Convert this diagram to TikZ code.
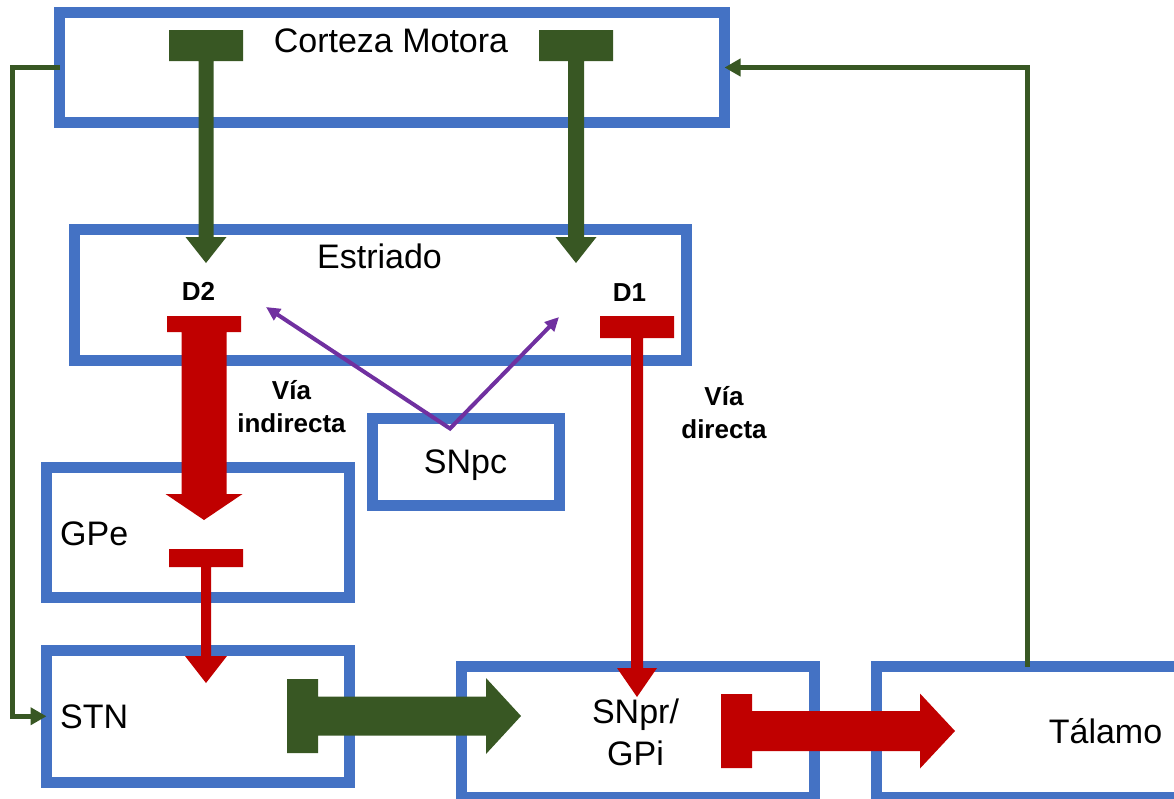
\documentclass[tikz,border=0pt]{standalone}
\usepackage{fontspec}
\setmainfont{Liberation Sans}
\usetikzlibrary{arrows.meta,calc}
\definecolor{bxblue}{HTML}{4472C4}
\definecolor{dkred}{HTML}{C00000}
\definecolor{dkgreen}{HTML}{385723}
\definecolor{purp}{HTML}{7030A0}
% vertical T-arrow: colour, origin, bar half, bar thickness, shaft half, head half, head base, tip
\newcommand\VTarrow[8]{%
  \fill[#1,shift={(#2)}] (-#3,0) -- (#3,0) -- (#3,#4) -- (#5,#4) -- (#5,#7) -- (#6,#7) -- (0,#8)
    -- (-#6,#7) -- (-#5,#7) -- (-#5,#4) -- (-#3,#4) -- cycle;}
% horizontal T-arrow: colour, origin, bar half, bar thickness, shaft half, head half, head base, tip
\newcommand\HTarrow[8]{%
  \fill[#1,shift={(#2)}] (0,-#3) -- (0,#3) -- (#4,#3) -- (#4,#5) -- (#7,#5) -- (#7,#6) -- (#8,0)
    -- (#7,-#6) -- (#7,-#5) -- (#4,-#5) -- (#4,-#3) -- cycle;}
\begin{document}
\begin{tikzpicture}[x=1pt,y=-1pt,
  box/.style={draw=bxblue,line width=11pt,rectangle,inner sep=0pt,outer sep=0pt},
  big/.style={inner sep=0pt,font=\fontsize{34}{42}\selectfont},
  lbl/.style={inner sep=0pt,font=\fontsize{26}{32.5}\selectfont\bfseries},
  fb/.style={draw=dkgreen,line width=5pt,-{Triangle[length=16pt,width=17pt]}},
  pline/.style={draw=purp,line width=4pt,line join=miter},
  ptip/.tip={Triangle[length=14pt,width=13pt]}]
\useasboundingbox (0,0) rectangle (1174,798);
\clip (0,0) rectangle (1174,798);
% boxes
\node[box,minimum width=665pt,minimum height=110pt] (ctx) at (392,67.5) {};
\node[box,minimum width=612pt,minimum height=131pt] (str) at (380,294.5) {};
\node[box,minimum width=302.5pt,minimum height=130.5pt] (gpe) at (197.75,532.25) {};
\node[box,minimum width=187pt,minimum height=87pt] (snpc) at (466,462) {};
\node[box,minimum width=303pt,minimum height=131.5pt] (stn) at (198,716.25) {};
\node[box,minimum width=353pt,minimum height=131pt] (snpr) at (637.5,732) {};
\node[box,minimum width=314pt,minimum height=131pt] (tal) at (1033,732) {};
% feedback connectors
\draw[fb] (ctx.west) -- ++(-47.5,0) |- (stn.west);
\coordinate (talout) at ($(tal.north west)+(151,0)$);
\draw[fb] (talout) |- (ctx.east);
% T arrows
\coordinate (tA) at (206,30);
\coordinate (tB) at (576,30);
\coordinate (tC) at (204,316);
\coordinate (tD) at (206,549);
\coordinate (tE) at (637,316);
\coordinate (tF) at (287,716);
\coordinate (tG) at (721,731);
\VTarrow{dkgreen}{tA}{37}{31}{7.5}{20.5}{207}{233}
\VTarrow{dkgreen}{tB}{37}{31}{8}{20.5}{207}{233}
\VTarrow{dkred}{tC}{37}{16}{22.5}{38.5}{178}{204}
\VTarrow{dkred}{tD}{37}{18}{5}{21}{107}{134}
\VTarrow{dkred}{tE}{37}{22}{6}{20}{352}{381}
\HTarrow{dkgreen}{tF}{37}{31}{19.5}{38}{199}{234}
\HTarrow{dkred}{tG}{37}{31}{20}{37.5}{199}{234}
% dopamine connectors
\coordinate (sv) at ($(snpc.north)+(-16,10)$);
\coordinate (d2t) at (266,307);
\coordinate (d1t) at (559,317);
\draw[pline,ptip-ptip] (d2t) -- (sv) -- (d1t);
% texts
\node[big,anchor=base] (tctx) at (391,52) {Corteza Motora};
\node[big,anchor=base] (tstr) at (379.5,268) {Estriado};
\node[big,anchor=base] (tsnpc) at (465.5,473) {SNpc};
\node[big,anchor=base west] (tgpe) at (60,545) {GPe};
\node[big,anchor=base west] (tstn) at (60,728) {STN};
\node[big,anchor=base] (tsnpr) at (635.5,765) {\begin{tabular}[b]{@{}c@{}}SNpr/\\GPi\end{tabular}};
\node[big,anchor=base] (ttal) at (1105.5,743) {Tálamo};
\node[lbl,anchor=base] (tind) at (291.5,432) {\begin{tabular}[b]{@{}c@{}}Vía\\indirecta\end{tabular}};
\node[lbl,anchor=base] (tdir) at (724,438) {\begin{tabular}[b]{@{}c@{}}Vía\\directa\end{tabular}};
\node[lbl,anchor=base] (td2) at (198.5,300.5) {D2};
\node[lbl,anchor=base] (td1) at (629.5,301.5) {D1};
\end{tikzpicture}
\end{document}
